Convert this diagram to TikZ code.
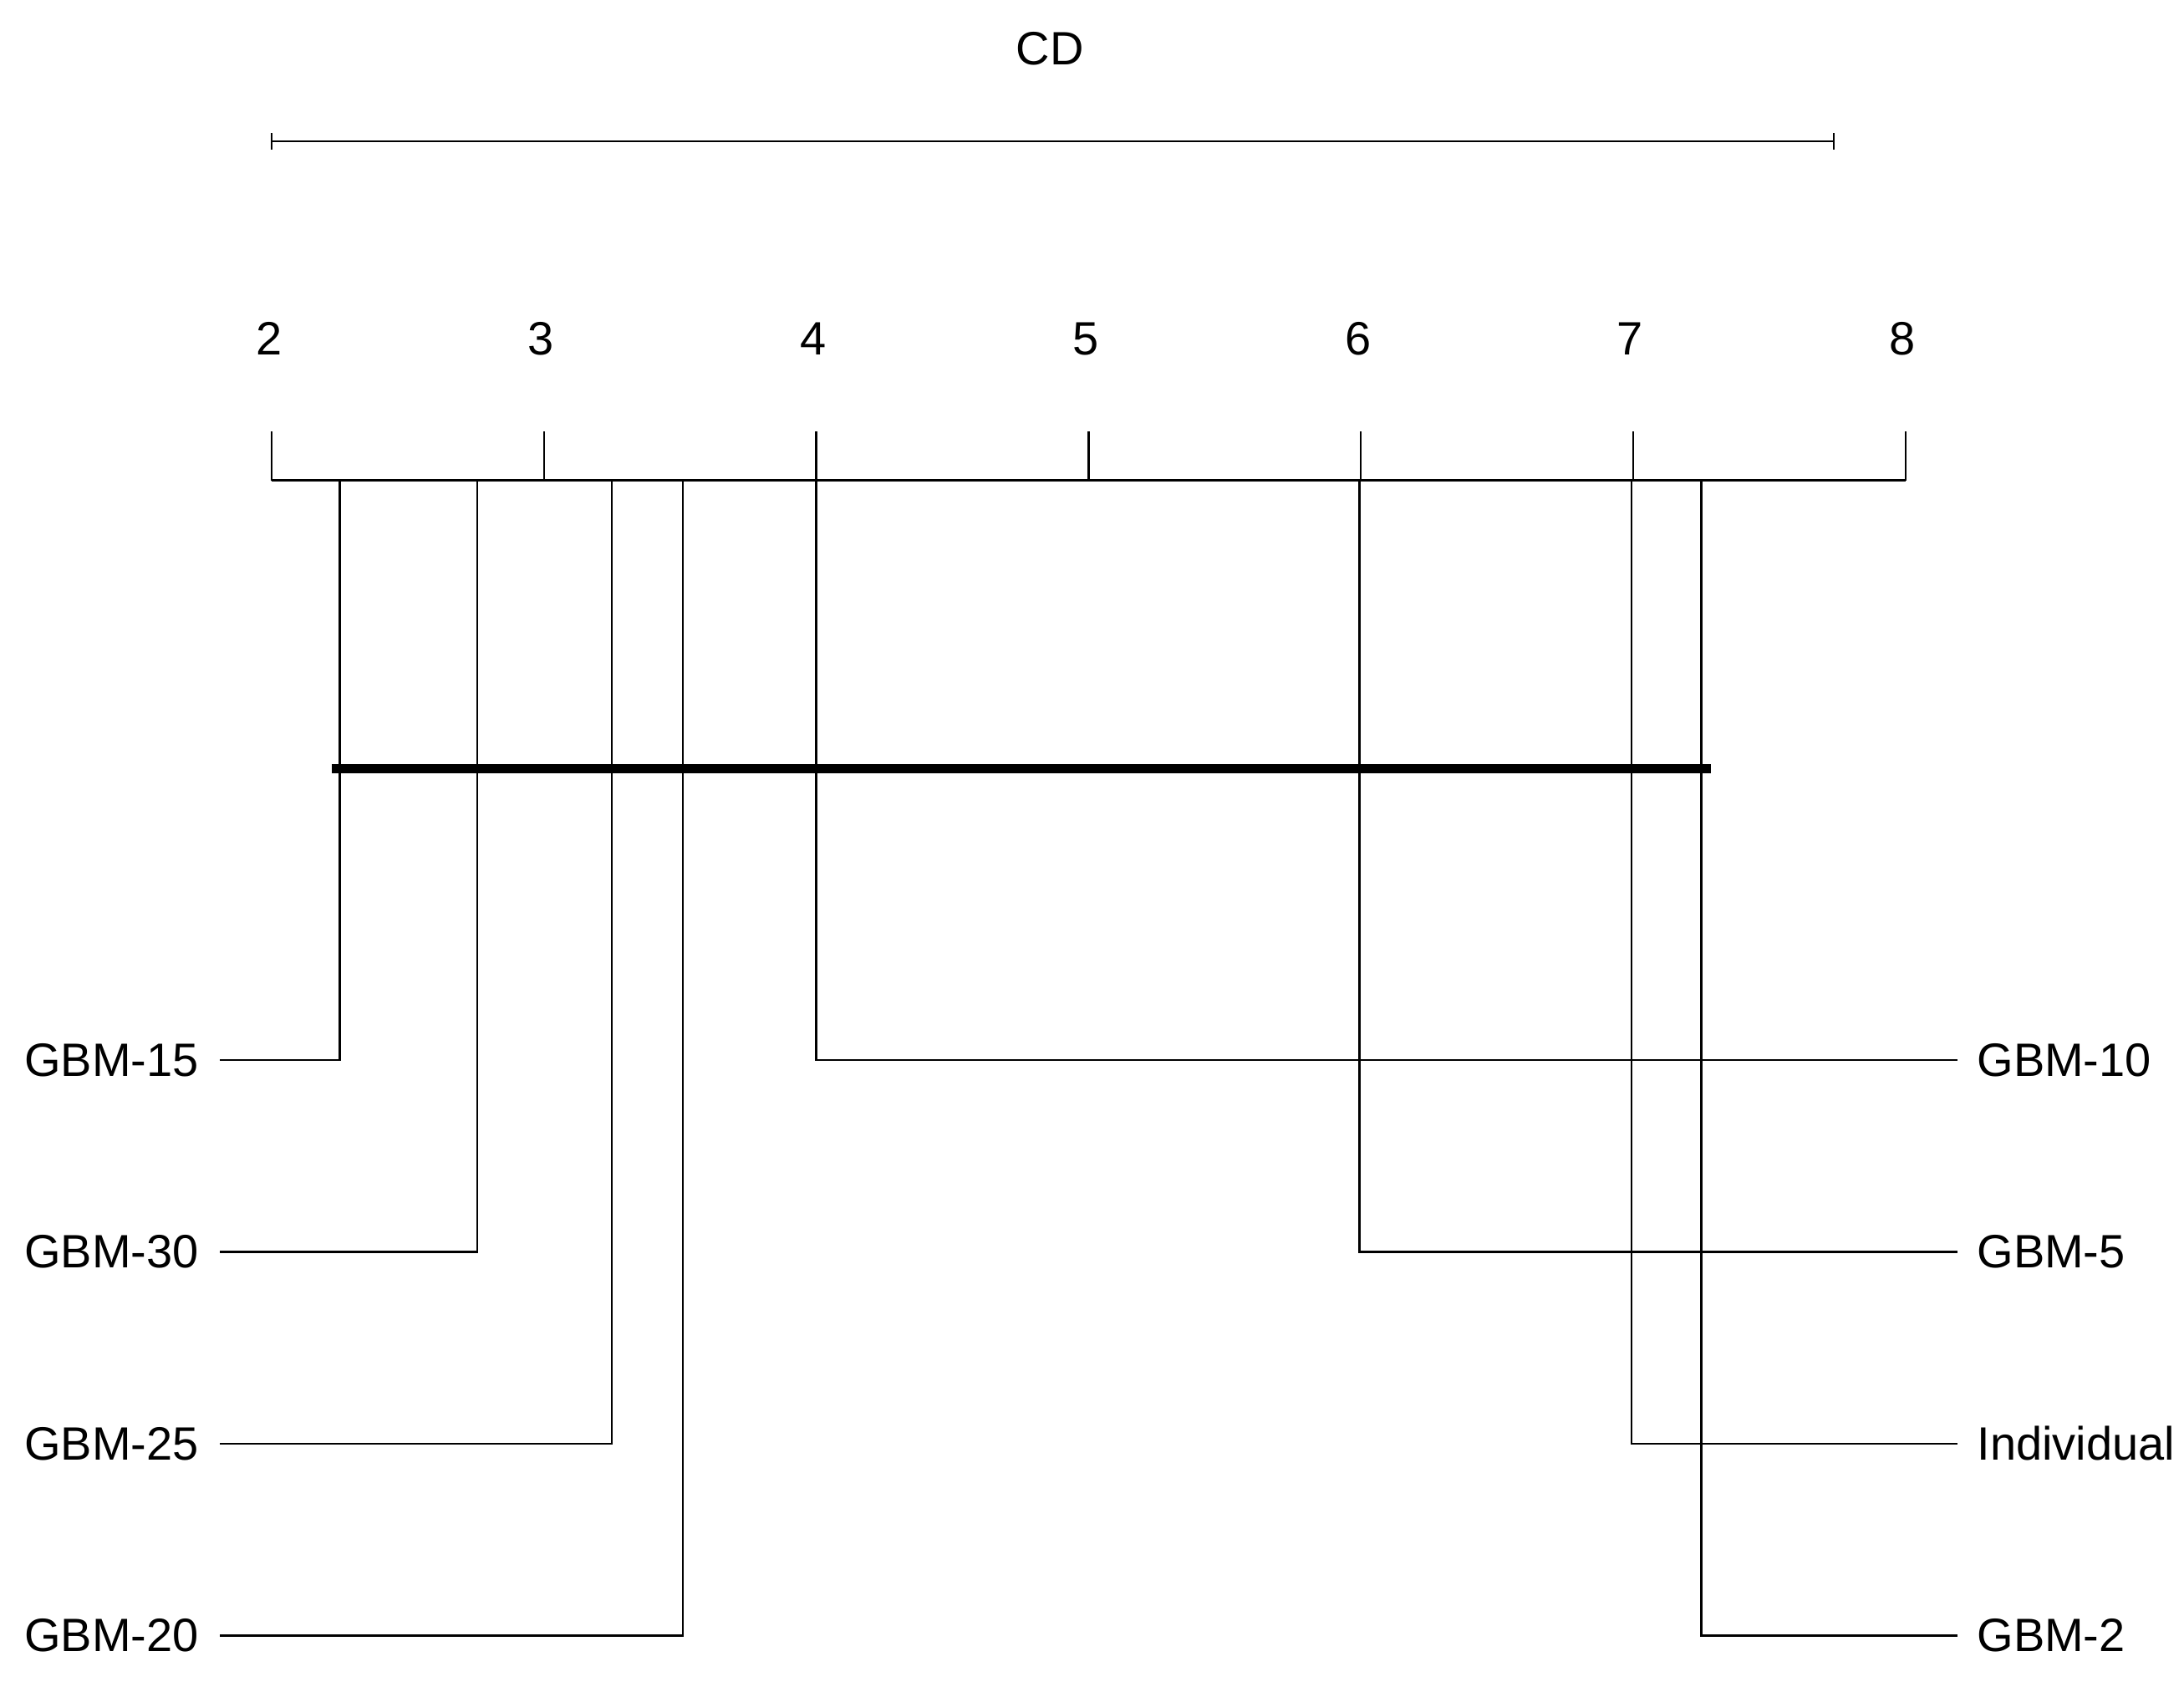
\documentclass[tikz,border=0pt]{standalone}
\usepackage{fontspec}
\setmainfont{Liberation Sans}
\usetikzlibrary{positioning}
\tikzset{lbl/.style={font=\fontsize{9.5}{11}\selectfont,inner sep=1pt}}
\begin{document}
\begin{tikzpicture}[x=0.01cm,y=-0.01cm,declare function={rx(\r)=194+(\r-2)*194.5;}]
\useasboundingbox (0,0) rectangle (1560,1201);
% CD bar
\node[lbl] (cd) at (750,35) {CD};
\coordinate (cda) at (194,101);
\coordinate (cdb) at (1310,101);
\draw (cda)--(cdb);
\draw (cda)++(0,-6)--++(0,12);
\draw (cdb)++(0,-6)--++(0,12);
% axis
\coordinate (axa) at (194,343);
\coordinate (axb) at (1361,343);
\draw (axa)--(axb);
\foreach \t in {2,...,8}{
  \pgfmathsetmacro{\xt}{rx(\t)}
  \coordinate (t\t) at (\xt,343);
  \draw (t\t)--++(0,-35);
  \node[lbl] (n\t) at (\xt-2,242) {\t};
}
% clique
\coordinate (cla) at (237,549);
\coordinate (clb) at (1222,549);
\draw[line width=2pt] (cla)--(clb);
% left methods
\foreach \nm/\r/\y in {GBM-15/2.25/757,GBM-30/2.755/894,GBM-25/3.25/1031,GBM-20/3.51/1168}{
  \pgfmathsetmacro{\xr}{rx(\r)}
  \coordinate (r\nm) at (\xr,343);
  \coordinate (e\nm) at (157,\y);
  \node[lbl,anchor=east] (l\nm) at (146,\y) {\nm};
  \draw (r\nm)|-(e\nm);
}
% right methods
\foreach \nm/\r/\y in {GBM-10/4.0/757,GBM-5/5.995/894,Individual/6.995/1031,GBM-2/7.25/1168}{
  \pgfmathsetmacro{\xr}{rx(\r)}
  \coordinate (r\nm) at (\xr,343);
  \coordinate (e\nm) at (1398,\y);
  \node[lbl,anchor=west] (l\nm) at (1408,\y) {\nm};
  \draw (r\nm)|-(e\nm);
}
\end{tikzpicture}
\end{document}
